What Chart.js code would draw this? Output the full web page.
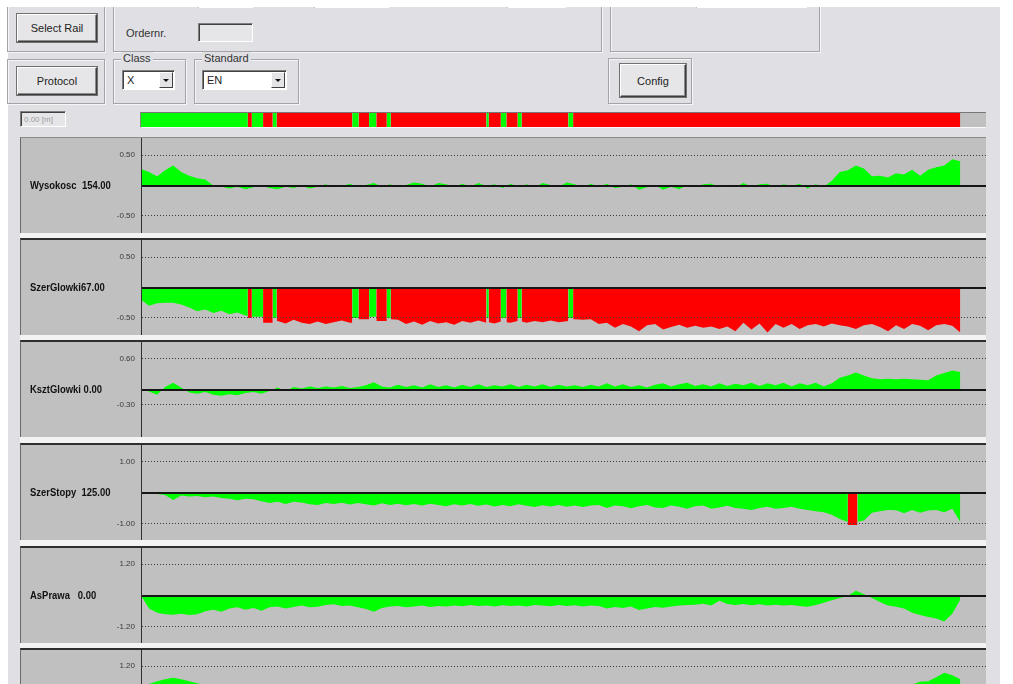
<!DOCTYPE html>
<html>
<head>
<meta charset="utf-8">
<title>Rail profile</title>
<script src="https://cdn.jsdelivr.net/npm/chart.js@4.4.1/dist/chart.umd.min.js"></script>
<style>
  body { margin: 0; width: 1013px; height: 684px; overflow: hidden; background: #fff; position: relative;
         font-family: "Liberation Sans", Arial, sans-serif; color: #222; }
  #app { position: absolute; left: 8px; top: 7px; width: 992px; height: 677px; background: #e0e0e4; }
  #topcut { position: absolute; left: 0; top: 0; width: 1013px; height: 7px; background: #fff; z-index: 5; }
  .grp { position: absolute; border: 1px solid #a4a4a8; box-shadow: inset 1px 1px 0 #f6f6f8, 1px 1px 0 #f6f6f8; }
  .grp span { position: absolute; top: -8px; left: 7px; padding: 0 2px; background: #e0e0e4; font-size: 11px; color: #333; }
  .btn { position: absolute; background: #e6e6e8; border: 1px solid; border-color: #fff #3c3c3c #3c3c3c #fff;
         box-shadow: inset -1px -1px 0 #8c8c8c, 0 0 0 1px #707070; font-size: 11px; color: #222;
         display: flex; align-items: center; justify-content: center; box-sizing: border-box; }
  .sunk { position: absolute; box-sizing: border-box; border: 1px solid; border-color: #808080 #fff #fff #808080;
          box-shadow: inset 1px 1px 0 #404040; }
  .combo { background: #fff; font-size: 11px; padding: 3px 0 0 4px; }
  .combo i { position: absolute; right: 1px; top: 1px; width: 14px; height: 16px; box-sizing: border-box; background: #e4e4e6;
             border: 1px solid; border-color: #fff #404040 #404040 #fff; }
  .combo i::after { content: ""; position: absolute; left: 3px; top: 6px; border-left: 3px solid transparent;
                    border-right: 3px solid transparent; border-top: 3px solid #111; }
  .lbl { position: absolute; font-size: 11px; color: #333; }
  #statusBox { position: absolute; left: 140px; top: 112px; width: 846px; height: 16px; box-sizing: border-box;
               background: #c0c0c0; border-top: 1px solid #777; border-left: 1px solid #888; border-bottom: 1px solid #fafafa; }
  #statusBox canvas { position: absolute; left: 0; top: 0; }
  #frame { position: absolute; left: 20px; top: 137px; width: 966px; height: 547px; background: #f3f3f4; }
  .panel { position: absolute; left: 20px; width: 966px; box-sizing: border-box; background: #c0c0c0;
           border-top: 2px solid #2e2e2e; border-left: 1px solid #6a6a6a; }
  .panel canvas { position: absolute; left: 0; top: 0; }
  .pname { position: absolute; left: 9px; top: 0; height: 95px; line-height: 95px; font-size: 11px; font-weight: bold;
           color: #111; white-space: pre; transform: scaleX(0.86); transform-origin: left center; }
</style>
</head>
<body>
<div id="app"></div>
<div id="topcut"></div>

<!-- form controls above the chart -->
<div class="grp" style="left:7px;top:-6px;width:96px;height:56px"></div>
<div class="grp" style="left:113px;top:-6px;width:487px;height:56px"></div>
<div class="grp" style="left:610px;top:-6px;width:208px;height:56px"></div>
<div class="sunk" style="left:198px;top:-10px;width:55px;height:18px;background:#fff"></div>
<div class="sunk" style="left:314px;top:-10px;width:75px;height:18px;background:#fff"></div>
<div class="sunk" style="left:507px;top:-10px;width:59px;height:18px;background:#fff"></div>
<div class="sunk" style="left:696px;top:-10px;width:111px;height:18px;background:#fff"></div>
<div class="btn" style="left:17px;top:14px;width:80px;height:28px">Select Rail</div>
<div class="lbl" style="left:126px;top:27px">Ordernr.</div>
<div class="sunk" style="left:198px;top:23px;width:55px;height:19px;background:#e6e6e8"></div>

<div class="grp" style="left:7px;top:59px;width:96px;height:43px"></div>
<div class="btn" style="left:17px;top:67px;width:80px;height:28px">Protocol</div>
<div class="grp" style="left:113px;top:59px;width:71px;height:43px"><span>Class</span></div>
<div class="sunk combo" style="left:122px;top:70px;width:53px;height:20px">X<i></i></div>
<div class="grp" style="left:194px;top:59px;width:103px;height:43px"><span>Standard</span></div>
<div class="sunk combo" style="left:202px;top:70px;width:85px;height:20px">EN<i></i></div>
<div class="grp" style="left:608px;top:58px;width:82px;height:44px"></div>
<div class="btn" style="left:620px;top:64px;width:66px;height:33px">Config</div>

<div class="sunk" style="left:20px;top:111px;width:46px;height:16px;background:#e6e6e8;font-size:8px;color:#9a9a9a;padding:3px 0 0 3px">0.00 [m]</div>
<div id="statusBox"><canvas id="statusChart" width="845" height="14"></canvas></div>

<div id="frame"></div>

<script>
// x positions are sample numbers along the rail; the plotted run ends at sample 102
const sampleX = Array.from({ length: 103 }, (_, i) => i);
const X_MAX = 105.2;

// quality strip: stripe edges and whether each stripe is within tolerance
const statusEdges = [0, 13.3, 13.8, 15.2, 16.4, 16.9, 26.3, 27.1, 28.4, 29.3, 30.6, 31.1,
                     43.0, 43.3, 44.8, 45.5, 46.9, 47.4, 53.2, 53.8, 102];
const statusOk = [1, 0, 1, 0, 1, 0, 1, 0, 1, 0, 1, 0, 1, 0, 1, 0, 1, 0, 1, 0];

// Wysokosc
const wysokosc = [0.27, 0.22, 0.15, 0.25, 0.33, 0.22, 0.16, 0.12, 0.10, 0.00,
  -0.02, -0.05, -0.02, -0.06, -0.03, -0.01, -0.04, -0.06, -0.02, -0.04,
  -0.01, -0.05, -0.02, 0.02, -0.03, -0.01, 0.03, -0.02, 0.01, 0.04,
  -0.02, 0.02, -0.03, 0.01, 0.05, 0.03, -0.02, 0.04, 0.02, -0.03,
  0.03, -0.02, 0.04, -0.01, 0.02, -0.04, 0.03, -0.02, 0.02, -0.03,
  0.04, 0.01, -0.02, 0.05, 0.02, -0.03, 0.03, -0.02, 0.03, -0.04,
  -0.02, 0.02, -0.07, -0.03, 0.01, -0.07, -0.02, -0.06, 0.01, -0.03,
  0.02, 0.03, -0.02, 0.01, -0.03, 0.04, -0.02, 0.02, 0.03, -0.03,
  0.02, -0.01, 0.03, -0.05, 0.02, -0.02, 0.08, 0.22, 0.25, 0.33,
  0.28, 0.15, 0.16, 0.13, 0.20, 0.18, 0.26, 0.16, 0.26, 0.30,
  0.33, 0.43, 0.40];

// SzerGlowki (own positions, split at the stripe edges)
const szerGlowkiX = [0, 1, 2, 3, 4, 5, 6, 7, 8, 9, 10, 11, 12, 13,
  13.3, 13.3, 13.8, 13.8, 15.2, 15.2, 16.4, 16.4, 16.9, 16.9,
  17, 18, 19, 20, 21, 22, 23, 24, 25, 26,
  26.3, 26.3, 27.1, 27.1, 28.4, 28.4, 29.3, 29.3, 30.6, 30.6, 31.1, 31.1,
  32, 33, 34, 35, 36, 37, 38, 39, 40, 41, 42, 43,
  43, 43.3, 43.3, 44, 44.8, 44.8, 45.5, 45.5, 46, 46.9, 46.9, 47.4, 47.4, 48, 49, 50, 51, 52, 53.2, 53.2, 53.8, 53.8, 54,
  55, 56, 57, 58, 59, 60, 61, 62, 63, 64, 65, 66, 67, 68, 69, 70, 71, 72, 73, 74, 75, 76, 77, 78,
  79, 80, 81, 82, 83, 84, 85, 86, 87, 88, 89, 90, 91, 92, 93, 94, 95, 96, 97, 98, 99, 100, 101, 102];
const szerGlowki = [-0.20, -0.30, -0.26, -0.25, -0.25, -0.28, -0.33, -0.39, -0.36, -0.42, -0.38, -0.44, -0.41, -0.46,
  -0.47, -0.50, -0.50, -0.48, -0.48, -0.58, -0.58, -0.50, -0.50, -0.55,
  -0.55, -0.59, -0.53, -0.58, -0.60, -0.56, -0.60, -0.57, -0.54, -0.58,
  -0.58, -0.50, -0.50, -0.52, -0.52, -0.48, -0.48, -0.55, -0.55, -0.50, -0.50, -0.52,
  -0.53, -0.60, -0.56, -0.61, -0.55, -0.59, -0.57, -0.61, -0.55, -0.58, -0.54, -0.58,
  -0.50, -0.50, -0.57, -0.59, -0.56, -0.50, -0.50, -0.57, -0.58, -0.55, -0.50, -0.50, -0.56, -0.58, -0.55, -0.57, -0.54, -0.57, -0.55, -0.50, -0.50, -0.52, -0.52,
  -0.53, -0.52, -0.60, -0.58, -0.66, -0.60, -0.64, -0.72, -0.62, -0.60, -0.69, -0.65, -0.61, -0.66, -0.63, -0.66, -0.64, -0.68, -0.64, -0.72, -0.58, -0.69, -0.59, -0.74,
  -0.60, -0.66, -0.60, -0.68, -0.62, -0.60, -0.64, -0.59, -0.62, -0.64, -0.68, -0.62, -0.60, -0.65, -0.72, -0.62, -0.68, -0.60, -0.63, -0.70, -0.62, -0.60, -0.63, -0.74];

// KsztGlowki
const ksztGlowki = [0.00, -0.04, -0.10, 0.05, 0.13, 0.04, -0.06, -0.08, -0.05, -0.10,
  -0.12, -0.09, -0.11, -0.07, -0.05, -0.08, -0.03, 0.04, -0.03, 0.05,
  0.02, 0.06, 0.03, 0.06, 0.04, 0.07, 0.03, 0.05, 0.08, 0.14,
  0.06, 0.04, 0.09, 0.05, 0.08, 0.04, 0.10, 0.05, 0.08, 0.04,
  0.09, 0.05, 0.10, 0.05, 0.08, 0.06, 0.10, 0.05, 0.09, 0.06,
  0.10, 0.05, 0.09, 0.06, 0.08, 0.05, 0.09, 0.06, 0.12, 0.06,
  0.10, 0.05, 0.08, 0.04, 0.09, 0.12, 0.06, 0.10, 0.13, 0.07,
  0.10, 0.06, 0.12, 0.07, 0.11, 0.08, 0.13, 0.07, 0.12, 0.08,
  0.13, 0.06, 0.12, 0.08, 0.13, 0.06, 0.12, 0.23, 0.27, 0.33,
  0.27, 0.22, 0.20, 0.21, 0.20, 0.21, 0.20, 0.19, 0.18, 0.27,
  0.32, 0.37, 0.34];

// SzerStopy (own positions, split around the out-of-tolerance spike)
const szerStopyX = [...sampleX.slice(0, 88), 88, 88, 89.2, 89.2, ...sampleX.slice(90)];
const szerStopy = [-0.03, -0.04, -0.05, -0.08, -0.24, -0.10, -0.13, -0.11, -0.15, -0.13,
  -0.18, -0.20, -0.25, -0.20, -0.22, -0.28, -0.34, -0.30, -0.37, -0.30,
  -0.32, -0.38, -0.40, -0.34, -0.37, -0.33, -0.39, -0.34, -0.38, -0.42,
  -0.35, -0.40, -0.36, -0.41, -0.37, -0.42, -0.36, -0.40, -0.44, -0.38,
  -0.42, -0.37, -0.43, -0.39, -0.45, -0.40, -0.44, -0.38, -0.43, -0.47,
  -0.41, -0.45, -0.40, -0.46, -0.42, -0.47, -0.42, -0.40, -0.50, -0.42,
  -0.44, -0.51, -0.44, -0.40, -0.48, -0.50, -0.42, -0.46, -0.52, -0.44,
  -0.42, -0.52, -0.48, -0.43, -0.50, -0.52, -0.56, -0.50, -0.46, -0.52,
  -0.50, -0.46, -0.52, -0.56, -0.60, -0.64, -0.72, -0.85,
  -0.95, -1.05, -1.05, -0.94,
  -0.90, -0.65, -0.60, -0.56, -0.57, -0.67, -0.56, -0.65, -0.58, -0.56, -0.64, -0.52, -0.95];
const szerStopyRed = [[88, 89.2]];

// AsPrawa
const asPrawa = [0.00, -0.50, -0.66, -0.72, -0.74, -0.70, -0.75, -0.72, -0.60, -0.55,
  -0.62, -0.50, -0.45, -0.55, -0.48, -0.58, -0.45, -0.42, -0.50, -0.44,
  -0.38, -0.45, -0.43, -0.36, -0.34, -0.40, -0.38, -0.45, -0.52, -0.62,
  -0.48, -0.42, -0.40, -0.45, -0.42, -0.38, -0.44, -0.40, -0.42, -0.38,
  -0.41, -0.36, -0.40, -0.38, -0.42, -0.37, -0.40, -0.38, -0.42, -0.36,
  -0.38, -0.41, -0.36, -0.40, -0.37, -0.42, -0.38, -0.40, -0.50, -0.44,
  -0.48, -0.42, -0.56, -0.50, -0.44, -0.47, -0.42, -0.38, -0.36, -0.35,
  -0.32, -0.38, -0.20, -0.33, -0.36, -0.33, -0.37, -0.34, -0.38, -0.35,
  -0.38, -0.36, -0.40, -0.43, -0.36, -0.28, -0.18, -0.10, -0.02, 0.18,
  0.05, -0.10, -0.25, -0.38, -0.43, -0.50, -0.66, -0.75, -0.82, -0.88,
  -1.00, -0.70, -0.15];

// sixth channel (only its top shows on screen)
const sixth = [0.40, 0.52, 0.62, 0.70, 0.76, 0.70, 0.62, 0.55, 0.48, 0.42,
  0.38, 0.40, 0.35, 0.42, 0.38, 0.33, 0.36, 0.40, 0.34, 0.37,
  0.31, 0.35, 0.30, 0.36, 0.32, 0.28, 0.33, 0.30, 0.35, 0.31,
  0.27, 0.32, 0.29, 0.34, 0.30, 0.26, 0.31, 0.28, 0.33, 0.29,
  0.25, 0.30, 0.27, 0.32, 0.28, 0.25, 0.30, 0.26, 0.31, 0.28,
  0.24, 0.29, 0.26, 0.31, 0.27, 0.24, 0.29, 0.26, 0.30, 0.27,
  0.25, 0.30, 0.27, 0.31, 0.28, 0.26, 0.30, 0.28, 0.32, 0.29,
  0.27, 0.31, 0.29, 0.33, 0.30, 0.28, 0.32, 0.30, 0.34, 0.31,
  0.30, 0.34, 0.32, 0.36, 0.33, 0.35, 0.38, 0.40, 0.42, 0.40,
  0.38, 0.40, 0.42, 0.44, 0.45, 0.46, 0.50, 0.60, 0.62, 0.78,
  0.95, 0.85, 0.70];

// panel captions and axis marks
const panelNames = ['Wysokosc  154.00', 'SzerGlowki67.00', 'KsztGlowki 0.00', 'SzerStopy  125.00', 'AsPrawa   0.00', ''];
const tickTop = [0.5, 0.5, 0.6, 1.0, 1.2, 1.2];
const tickBottom = [-0.5, -0.5, -0.3, -1.0, -1.2, -1.2];
const yLimit = [0.78, 0.78, 0.92, 1.53, 1.82, 1.82];

const GREEN = '#00ff00';
const RED = '#ff0000';

// red stretches of the strip
const statusRed = [];
statusOk.forEach((ok, i) => { if (!ok) statusRed.push([statusEdges[i], statusEdges[i + 1]]); });

const series = [
  { xs: sampleX, ys: wysokosc, red: [] },
  { xs: szerGlowkiX, ys: szerGlowki, red: statusRed },
  { xs: sampleX, ys: ksztGlowki, red: [] },
  { xs: szerStopyX, ys: szerStopy, red: szerStopyRed },
  { xs: sampleX, ys: asPrawa, red: [] },
  { xs: sampleX, ys: sixth, red: [] }
];

const quiet = { legend: { display: false }, tooltip: { enabled: false } };

// strip above the channels
new Chart(document.getElementById('statusChart'), {
  type: 'line',
  data: {
    datasets: [{
      data: statusEdges.map(x => ({ x, y: 1 })),
      fill: 'origin',
      backgroundColor: GREEN,
      borderColor: 'rgba(0,0,0,0)',
      borderWidth: 0,
      pointRadius: 0,
      segment: { backgroundColor: ctx => statusOk[ctx.p0DataIndex] ? GREEN : RED }
    }]
  },
  options: {
    responsive: false, animation: false, devicePixelRatio: 1, events: [],
    plugins: quiet,
    scales: {
      x: { type: 'linear', min: 0, max: X_MAX, display: false },
      y: { min: 0, max: 1, display: false }
    }
  }
});

const panelTops = [137, 238, 340, 443, 546, 648];

panelTops.forEach((top, k) => {
  const bw = k === 0 ? 1 : 2;
  const box = document.createElement('div');
  box.className = 'panel';
  box.style.top = top + 'px';
  box.style.height = (95 + bw) + 'px';
  box.style.borderTopWidth = bw + 'px';
  if (k === 0) box.style.borderTopColor = '#8a8a8a';
  const cv = document.createElement('canvas');
  cv.width = 965;
  cv.height = 95;
  box.appendChild(cv);
  const name = document.createElement('div');
  name.className = 'pname';
  name.textContent = panelNames[k];
  box.appendChild(name);
  document.body.appendChild(box);

  const s = series[k];
  const hi = tickTop[k], lo = tickBottom[k], lim = yLimit[k];
  const isZero = c => c.tick && c.tick.value === 0;

  new Chart(cv, {
    type: 'line',
    data: {
      datasets: [{
        label: panelNames[k],
        data: s.xs.map((x, i) => ({ x, y: s.ys[i] })),
        fill: 'origin',
        backgroundColor: GREEN,
        borderColor: 'rgba(0,0,0,0)',
        borderWidth: 0,
        pointRadius: 0,
        tension: 0,
        segment: {
          backgroundColor: ctx => {
            const mid = (ctx.p0.parsed.x + ctx.p1.parsed.x) / 2;
            return s.red.some(r => mid > r[0] && mid < r[1]) ? RED : GREEN;
          }
        }
      }]
    },
    options: {
      responsive: false, animation: false, devicePixelRatio: 1, events: [],
      layout: { padding: 0 },
      plugins: quiet,
      scales: {
        x: { type: 'linear', min: 0, max: X_MAX, display: false },
        y: {
          min: -lim, max: lim,
          afterBuildTicks: sc => { sc.ticks = [{ value: lo }, { value: 0 }, { value: hi }]; },
          // fixed label column, and let the plot use the full panel height
          afterFit: sc => { sc.width = 120; sc.paddingTop = 0; sc.paddingBottom = 0; },
          ticks: {
            font: { family: 'Liberation Sans', size: 8 },
            color: '#3a3a3a',
            padding: 6,
            callback: v => v === 0 ? '' : v.toFixed(2)
          },
          grid: {
            drawTicks: false,
            z: 1,
            color: c => isZero(c) ? '#161616' : '#3c3c3c',
            lineWidth: c => isZero(c) ? 2 : 1
          },
          border: { display: true, color: '#303030', width: 1, z: 1, dash: c => (c.tick && c.tick.value !== 0) ? [1, 2] : [] }
        }
      }
    }
  });
});
</script>
</body>
</html>
